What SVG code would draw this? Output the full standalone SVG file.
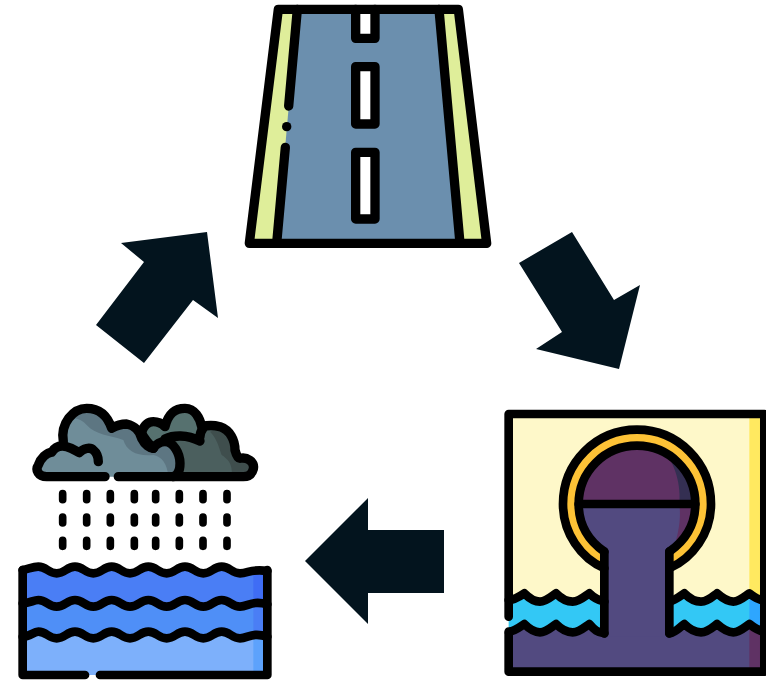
<svg xmlns="http://www.w3.org/2000/svg" width="766" height="680" viewBox="0 0 766 680">
<style>
.o{fill:none;stroke:#000;stroke-width:26;stroke-linecap:round;stroke-linejoin:round}
.t{stroke-width:28}
.d{stroke-width:23}
.n{stroke:none}
.a{fill:#03141e;stroke:none}
</style>
<rect width="766" height="680" fill="#fff"/>
<g id="connectors">
<polygon class="a" points="96,325 144,363 193,300 218,318 207,232 121,243 144,262"/>
<polygon class="a" points="519,263 572,232 614,300 640,285 619,369 536,349 562,332"/>
<polygon class="a" points="305,561 368,498 368,530 444,530 444,593 368,593 368,624"/>
</g>
<g id="road" transform="translate(240 0) scale(.33333)">
<polygon class="n" fill="#dfee9a" points="115,28 655,28 740,730 28,730"/>
<polygon class="n" fill="#6b8fae" points="172,28 597,28 660,730 110,730"/>
<rect class="n" fill="#fff" x="347" y="28" width="58" height="87"/>
<rect class="n" fill="#fff" x="347" y="200" width="58" height="172"/>
<rect class="n" fill="#fff" x="347" y="457" width="58" height="200"/>
<path class="o t" d="M115 28H655L740 730H28Z"/>
<path class="o t" d="M172 28L146 318M136 442L110 730M597 28L660 730"/>
<path class="o t" d="M140 380h.1"/>
<path class="o t" d="M347 28V115H405V28"/>
<rect class="o t" x="347" y="200" width="58" height="172"/>
<rect class="o t" x="347" y="457" width="58" height="200"/>
</g>
<g id="rain-water" transform="translate(10 395) scale(.33333)">
<path class="n" fill="#4b5f5e" d="M395 110C405 85 420 80 430 80C445 80 455 85 465 95C475 55 495 40 525 40C555 40 570 70 575 95C595 90 610 90 630 95C660 105 675 135 675 165C680 185 685 190 690 190C710 185 735 200 730 222C725 240 715 245 700 245H500L515 170L430 160Z"/>
<path class="n" fill="#56716f" d="M395 110C405 85 420 80 430 80C445 80 455 85 465 95C475 55 495 40 525 40C555 40 570 70 575 95L560 125C530 120 490 120 465 140L430 160Z"/>
<path class="n" fill="#3f4e4d" d="M600 110C640 95 675 135 675 165C680 185 685 190 690 190C710 185 735 200 730 222C725 240 715 245 700 245H665C670 205 650 190 635 180C625 150 620 130 600 110Z"/>
<path class="n" fill="#6f8d99" d="M160 140C150 85 190 40 230 40C275 40 295 70 305 100C325 88 340 87 350 87C375 92 390 110 395 130C405 150 420 160 430 160C440 145 450 140 465 140C490 140 510 175 510 205C510 225 505 240 490 245H110C85 245 78 225 85 210C90 185 105 170 125 170C140 150 150 140 160 140Z"/>
<path class="n" fill="#5d7682" d="M195 70C215 35 285 30 305 100C325 88 340 87 350 87C375 92 390 110 395 130C405 150 420 160 430 160C440 145 450 140 465 140C490 140 510 175 510 205C510 225 505 240 490 245H475C472 205 455 185 430 180C385 185 350 170 340 135C300 120 255 120 230 90C220 78 205 72 195 70Z"/>
<path class="o t" d="M285 245H110C85 245 75 225 85 210C92 190 110 172 125 172C135 155 150 150 170 155C190 160 200 170 208 173C220 160 240 155 250 165C262 175 265 190 265 200"/>
<path class="o t" d="M160 140C150 85 190 40 230 40C275 40 295 70 305 100C325 88 340 87 350 87C375 92 390 110 395 130C405 150 420 160 430 160C440 145 450 140 465 140C490 140 510 175 510 205C510 225 505 240 490 245"/>
<path class="o t" d="M395 110C405 85 420 80 430 80C445 80 455 85 465 95C475 55 495 40 525 40C555 40 570 70 575 95C595 90 610 90 630 95C660 105 675 135 675 165C680 185 685 190 690 190C710 185 735 200 730 222C725 240 715 245 700 245H325"/>
<path class="o t" d="M395 115C405 135 420 150 430 160M465 132C490 120 530 118 570 138M570 125C570 115 575 105 580 98"/>
<path class="o d" d="M158 296v18M230 296v18M301 296v18M373 296v18M437 296v18M508 296v18M579 296v18M651 296v18M158 366v18M230 366v18M301 366v18M373 366v18M437 366v18M508 366v18M579 366v18M651 366v18M158 436v18M230 436v18M301 436v18M373 436v18M437 436v18M508 436v18M579 436v18M651 436v18"/>
<path class="n" fill="#4a7ef5" d="M38 525H772V630H38Z"/>
<path class="n" fill="#3f6df5" d="M730 525H772V630H730Z"/>
<path class="n" fill="#4f8ff7" d="M38 625H772V730H38Z"/>
<path class="n" fill="#4a7ef5" d="M730 625H772V730H730Z"/>
<path class="n" fill="#7db0fb" d="M38 720H772V840H38Z"/>
<path class="n" fill="#5da2fc" d="M730 725H772V840H730Z"/>
<path class="o" d="M38 525C60 520 70 515 85 515C110 515 115 535 140 535C165 535 170 515 195 515C220 515 225 535 250 535C275 535 280 515 305 515C330 515 335 535 360 535C385 535 390 515 415 515C440 515 445 535 470 535C495 535 500 515 525 515C550 515 555 535 580 535C605 535 610 515 635 515C660 515 665 535 690 535C715 535 725 520 772 528"/>
<path class="o" d="M38 625C60 625 70 615 85 615C110 615 115 635 140 635C165 635 170 615 195 615C220 615 225 635 250 635C275 635 280 615 305 615C330 615 335 635 360 635C385 635 390 615 415 615C440 615 445 635 470 635C495 635 500 615 525 615C550 615 555 635 580 635C605 635 610 615 635 615C660 615 665 635 690 635C715 635 725 615 772 628"/>
<path class="o" d="M38 725C60 725 70 710 85 710C110 710 115 730 140 730C165 730 170 710 195 710C220 710 225 730 250 730C275 730 280 710 305 710C330 710 335 730 360 730C385 730 390 710 415 710C440 710 445 730 470 730C495 730 500 710 525 710C550 710 555 730 580 730C605 730 610 710 635 710C660 710 665 730 690 730C715 730 725 710 772 725"/>
<path class="o" d="M225 840H38V525M772 525V840H270"/>
</g>
<g id="pipe" transform="translate(496 400) scale(.33333)">
<rect class="n" fill="#fef8c9" x="38" y="42" width="767" height="773"/>
<rect class="n" fill="#ffe960" x="760" y="42" width="45" height="560"/>
<path class="n" fill="#33c8f5" d="M38 600L85 580L130 605L180 580L230 605L280 580L325 600V700L280 672L230 695L180 672L130 695L85 672L38 695Z"/>
<path class="n" fill="#33c8f5" d="M520 600L565 580L615 605L663 580L712 605L760 580L805 600V695L760 672L712 695L663 672L615 695L565 672L520 700Z"/>
<path class="n" fill="#2ea6ff" d="M760 590H805V695H760Z"/>
<path class="n" fill="#524a80" d="M38 695L85 675L130 700L180 675L230 700L280 675L325 700H520L565 675L615 700L663 675L712 700L760 675L805 695V815H38Z"/>
<path class="n" fill="#5f3264" d="M760 680L805 695V815H760Z"/>
<path class="n" fill="#fdc236" d="M325 505C255 475 201 400 201 312C201 188 300 89 423 89C546 89 645 188 645 312C645 400 590 475 520 505V455C570 420 598 370 598 312C598 215 520 137 423 137C326 137 248 215 248 312C248 370 275 420 325 455Z"/>
<path class="n" fill="#5f3264" d="M248 312C248 215 326 137 423 137C520 137 598 215 598 312Z"/>
<path class="n" fill="#342f52" d="M500 150C540 190 555 260 550 312H598C598 235 555 170 500 150Z"/>
<path class="n" fill="#524a80" d="M248 312H598C598 370 570 420 520 455V710H325V455C275 420 248 370 248 312Z"/>
<path class="n" fill="#5f3264" d="M550 312H598C598 370 570 420 530 450C550 400 555 350 550 312Z"/>
<path class="o" d="M325 505C255 475 201 400 201 312C201 188 300 89 423 89C546 89 645 188 645 312C645 400 590 475 520 505"/>
<path class="o" d="M325 455C275 420 248 370 248 312C248 215 326 137 423 137C520 137 598 215 598 312C598 370 570 420 520 455"/>
<path class="o" d="M248 312H598"/>
<path class="o" d="M325 455V700M520 455V700"/>
<path class="o" d="M38 600C55 600 70 590 85 580C100 595 115 605 132 605C150 605 165 590 180 580C195 595 210 605 230 605C250 605 265 590 280 580C295 595 305 600 325 605"/>
<path class="o" d="M38 695C55 695 70 682 85 672C100 687 115 697 132 697C150 697 165 682 180 672C195 687 210 697 230 697C250 697 265 682 280 672C295 690 305 697 325 700"/>
<path class="o" d="M520 605C540 600 550 590 565 580C580 595 595 605 615 605C635 605 650 590 663 580C680 595 695 605 712 605C730 605 745 590 760 580C775 592 790 600 805 602"/>
<path class="o" d="M520 700C540 697 550 682 565 672C580 687 595 697 615 697C635 697 650 682 663 672C680 687 695 697 712 697C730 697 745 682 760 672C775 684 790 692 805 695"/>
<path class="o" d="M38 650V42H805V815H38V700"/>
</g>
</svg>
